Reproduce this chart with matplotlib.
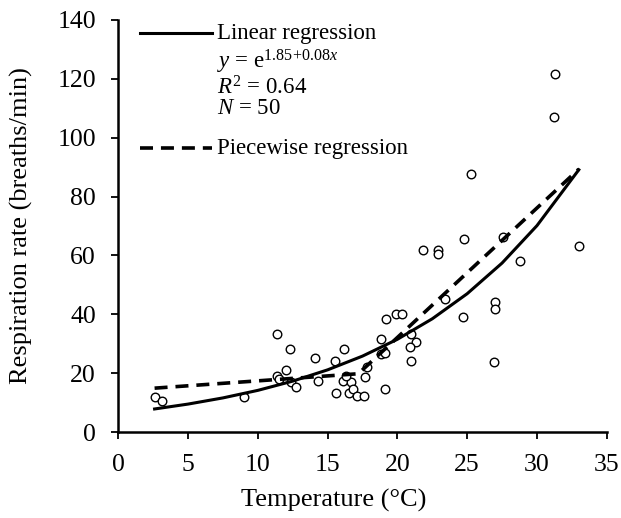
import numpy as np
import matplotlib
matplotlib.use('Agg')
import matplotlib.pyplot as plt
import matplotlib.ticker as ticker

# observed points (temperature degC, breaths/min)
temp = [2.6, 3.1, 9.0, 11.4, 12.3, 12.0, 11.4, 11.5, 12.4, 12.7,
        14.1, 15.5, 16.2, 14.3, 16.1, 16.7, 17.7, 17.8, 15.6, 16.5,
        16.8, 17.1, 17.6, 19.1, 18.8, 19.1, 18.8, 19.2, 19.9, 20.3,
        21.0, 21.3, 20.9, 21.0, 23.4, 21.8, 22.9, 22.9, 24.8, 24.7,
        25.3, 27.0, 27.0, 26.9, 27.6, 28.8, 33.0, 31.3, 31.2, 16.3]
resp = [12.0, 10.5, 11.8, 33.3, 28.3, 21.1, 19.0, 18.0, 17.1, 15.2,
        25.0, 24.2, 28.1, 17.3, 17.3, 16.9, 18.6, 22.0, 13.4, 13.4,
        14.5, 12.2, 12.2, 14.5, 26.5, 26.7, 31.6, 38.3, 40.1, 40.1,
        33.2, 30.7, 29.0, 24.1, 45.3, 61.9, 61.8, 60.4, 65.6, 39.2,
        87.6, 44.3, 41.8, 23.9, 66.1, 58.1, 63.3, 121.5, 106.9, 19.0]

# exponential fit
fit_x = [2.6, 5, 7.5, 10, 12.5, 15, 17.5, 20, 22.5, 25, 27.5, 30, 33]
fit_y = [7.83, 9.49, 11.59, 14.15, 17.29, 21.12, 25.79, 31.50, 38.47,
         46.99, 57.40, 70.11, 89.1]

# piecewise fit: start, breakpoint, end
pw_x = [2.6, 17.2, 33.0]
pw_y = [14.9, 19.8, 89.3]

plt.rcParams['font.family'] = ['Liberation Serif', 'DejaVu Serif']
plt.rcParams['mathtext.fontset'] = 'custom'
plt.rcParams['mathtext.rm'] = 'Liberation Serif'
plt.rcParams['mathtext.it'] = 'Liberation Serif:italic'

fig = plt.figure(figsize=(6.21, 5.18), dpi=100)
ax = fig.add_axes([0.1905, 0.166, 0.7865, 0.7955])

ax.scatter(temp, resp, s=38, facecolors='white', edgecolors='black',
           linewidths=1.0, zorder=2)
ax.plot(fit_x, fit_y, color='black', lw=2.2, zorder=3)
ax.plot(pw_x, pw_y, color='black', lw=2.6, dashes=(3.6, 2.2), zorder=3)

ax.set_xlim(0, 35)
ax.set_ylim(0, 140)
ax.xaxis.set_major_locator(ticker.MultipleLocator(5))
ax.yaxis.set_major_locator(ticker.MultipleLocator(20))
ax.spines['top'].set_visible(False)
ax.spines['right'].set_visible(False)
for s in ('left', 'bottom'):
    ax.spines[s].set_linewidth(1.8)
ax.tick_params(direction='out', length=5, width=1.3, labelsize=18.5, pad=11)
ax.set_xlabel('Temperature (°C)', fontsize=19)
ax.set_ylabel('Respiration rate (breaths/min)', fontsize=19)
ax.xaxis.set_label_coords(0.44, -0.138)
ax.yaxis.set_label_coords(-0.175, 0.5)

# hand-made legend
ax.plot([0.044, 0.192], [0.968, 0.968], transform=ax.transAxes,
        color='black', lw=2.2, clip_on=False)
ax.plot([0.044, 0.192], [0.689, 0.689], transform=ax.transAxes,
        color='black', lw=2.6, dashes=(3.6, 2.2), clip_on=False)
tx = 0.202
ax.text(tx, 0.968, 'Linear regression', transform=ax.transAxes,
        fontsize=16.5, va='center')
ax.text(tx, 0.897, r'$y$ = e$^{1.85\!+\!0.08x}$', transform=ax.transAxes,
        fontsize=16.5, va='center')
ax.text(tx, 0.835, r'$R^2$ = 0.64', transform=ax.transAxes,
        fontsize=16.5, va='center')
ax.text(tx, 0.785, r'$N$ = 50', transform=ax.transAxes,
        fontsize=16.5, va='center')
ax.text(tx, 0.689, 'Piecewise regression', transform=ax.transAxes,
        fontsize=16.5, va='center')

fig.savefig('out.png', dpi=100)
